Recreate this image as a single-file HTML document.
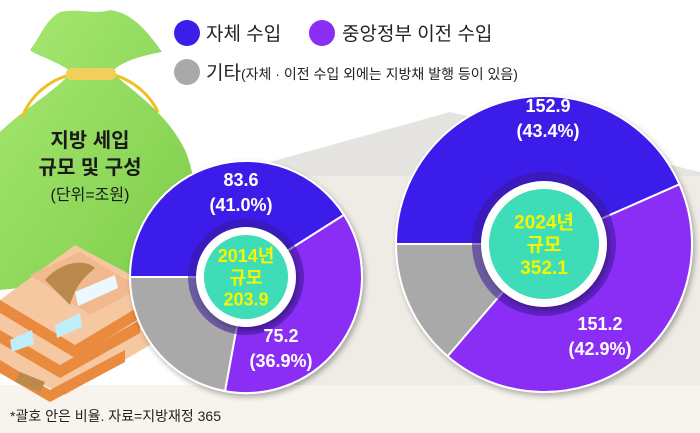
<!DOCTYPE html>
<html><head><meta charset="utf-8"><style>
html,body{margin:0;padding:0;background:#fff}
svg{display:block}
text{font-family:"Liberation Sans","Noto Sans CJK KR",sans-serif}
.nar{font-family:"Liberation Sans Narrow","Liberation Sans","Noto Sans CJK KR",sans-serif}
</style></head><body>
<svg id="chart" width="700" height="433" viewBox="0 0 700 433" xmlns="http://www.w3.org/2000/svg">
<defs>
<linearGradient id="bagG" x1="0" y1="0" x2="1" y2="1"><stop offset="0" stop-color="#a8e873"/><stop offset="1" stop-color="#7ccc48"/></linearGradient>
<filter id="sh" x="-20%" y="-20%" width="140%" height="140%"><feDropShadow dx="2" dy="3" stdDeviation="3" flood-color="#000" flood-opacity="0.3"/></filter>
</defs>
<rect x="0" y="0" width="700" height="433" fill="#ffffff"/>
<polygon points="270,162 450,112 700,172 700,385 260,385" fill="#e6e4e0"/>
<polygon points="300,176 700,176 700,385 300,385" fill="#efece6"/>
<polygon points="0,385 700,385 700,433 0,433" fill="#f7f4ee"/>

<g>
<path d="M72,72 C55,60 35,55 30,50 C40,38 45,20 60,12 C80,8 95,15 110,10 C125,12 140,20 162,52 C140,56 120,62 112,72 C130,90 165,110 185,150 C198,180 200,230 192,270 L0,290 L0,132 C20,112 50,95 72,72 Z" fill="url(#bagG)"/>
<path d="M22,118 C30,95 50,80 70,75 M115,75 C135,82 150,95 158,112" stroke="#f0c020" stroke-width="3" fill="none"/>
<rect x="66" y="68" width="50" height="12" rx="5" fill="#f2cf5a"/>
</g>
<g>
<polygon points="0,300 75,245 150,285 150,345 65,395 0,365" fill="#f6c8a2"/>
<polygon points="30,275 80,252 140,288 90,315" fill="#f3b98e"/>
<path d="M45,280 C60,262 85,258 95,268 C78,282 74,292 70,305 Z" fill="#b98a4c"/>
<polygon points="0,300 75,345 150,300 150,312 75,358 0,313" fill="#e98a3e"/>
<polygon points="0,330 60,365 140,320 140,333 60,378 0,343" fill="#e98a3e"/>
<polygon points="0,360 50,390 125,350 125,362 50,402 0,373" fill="#e98a3e"/>
<polygon points="75,292 115,275 118,288 78,306" fill="#eaf8ff"/>
<polygon points="55,325 80,313 82,327 57,338" fill="#bfeefa"/>
<polygon points="10,340 32,330 34,344 12,352" fill="#bfeefa"/>
<polygon points="20,372 45,382 40,392 15,382" fill="#b98a4c"/>
</g>

<text x="90" y="147" text-anchor="middle" font-size="20" font-weight="bold" fill="#1a1a1a">지방 세입</text>
<text x="90" y="174" text-anchor="middle" font-size="20" font-weight="bold" fill="#1a1a1a">규모 및 구성</text>
<text x="90" y="200" text-anchor="middle" font-size="16" fill="#1a1a1a">(단위=조원)</text>

<g>
<circle cx="187" cy="33" r="13" fill="#3b1ee8"/>
<text x="206" y="40" font-size="19" fill="#222">자체 수입</text>
<circle cx="322" cy="33" r="13" fill="#8a2ef5"/>
<text x="342" y="40" font-size="19" fill="#222">중앙정부 이전 수입</text>
<circle cx="187" cy="72" r="13" fill="#a9a9a9"/>
<text x="206" y="79" fill="#222"><tspan font-size="19">기타</tspan><tspan font-size="14">(자체 · 이전 수입 외에는 지방채 발행 등이 있음)</tspan></text>
</g>

<g id="donuts"></g>
<text x="10" y="421" font-size="14" fill="#222" class="nar">*괄호 안은 비율. 자료=지방재정 365</text>
</svg>
<script>
const years = ["2014년", "2024년"];
const totals = ["203.9", "352.1"];
const categories = ["자체 수입", "중앙정부 이전 수입", "기타"];
const shares2014 = [41.0, 36.9, 22.1];
const shares2024 = [43.4, 42.9, 13.7];
const values2014 = ["83.6", "75.2", ""];
const values2024 = ["152.9", "151.2", ""];

const colors = ["#3b1ee8", "#8a2ef5", "#a9a9a9"];
const NS = "http://www.w3.org/2000/svg";
const root = document.getElementById("donuts");
function mk(t, a, p){const e=document.createElementNS(NS,t);for(const k in a)e.setAttribute(k,a[k]);(p||root).appendChild(e);return e;}
function pt(cx,cy,r,deg){const a=(deg-90)*Math.PI/180;return [cx+r*Math.cos(a),cy+r*Math.sin(a)];}
function donut(cx,cy,R,ringR,whiteR,cyanR,shares,vals,year,total,fs,labelPos,key){
  const g=mk("g",{filter:"url(#sh)"});
  
  
  let start=270;
  const sum=shares.reduce((a,b)=>a+b,0);
  shares.forEach((s,i)=>{
    const sweep=s/sum*360, end=start+sweep;
    const p0=pt(cx,cy,R,start), p1=pt(cx,cy,R,end);
    const path=mk("path",{d:`M${cx},${cy} L${p0[0]},${p0[1]} A${R},${R} 0 ${sweep>180?1:0} 1 ${p1[0]},${p1[1]} Z`,fill:colors[i],stroke:"#fff","stroke-width":2},g);
    
    
    start=end;
  });
  const ring=mk("circle",{cx:cx,cy:cy,r:ringR,fill:"#3a1a9a",opacity:0.55});
  
  
  const w=mk("circle",{cx:cx,cy:cy,r:whiteR,fill:"#fff",filter:"url(#sh)"});
  
  
  const c=mk("circle",{cx:cx,cy:cy,r:cyanR,fill:"#3fdcb8"});
  
  
  [year,"규모",total].forEach((t,i)=>{
    const tx=mk("text",{x:cx,y:cy-fs*1.2+i*fs*1.2+fs*0.38,"text-anchor":"middle","font-size":fs,"font-weight":"bold",fill:"#f4f700",class:"nar"});
    tx.textContent=t;
    
    
  });
  vals.forEach((v,i)=>{
    if(!v)return;
    const lp=labelPos[i];
    const t1=mk("text",{x:lp[0],y:lp[1],"text-anchor":"middle","font-size":18,"font-weight":"bold",fill:"#fff",class:"nar"});
    t1.textContent=v;
    
    
    const t2=mk("text",{x:lp[0],y:lp[1]+25,"text-anchor":"middle","font-size":18,"font-weight":"bold",fill:"#fff",class:"nar"});
    t2.textContent="("+shares[i].toFixed(1)+"%)";
    
    
  });
}
donut(246,277,116,58,50,42,shares2014,values2014,years[0],totals[0],18,[[241,186],[281,342]],"2014");
donut(544,244,148,72,63,55,shares2024,values2024,years[1],totals[1],19,[[548,112],[600,330]],"2024");
</script>
</body></html>
